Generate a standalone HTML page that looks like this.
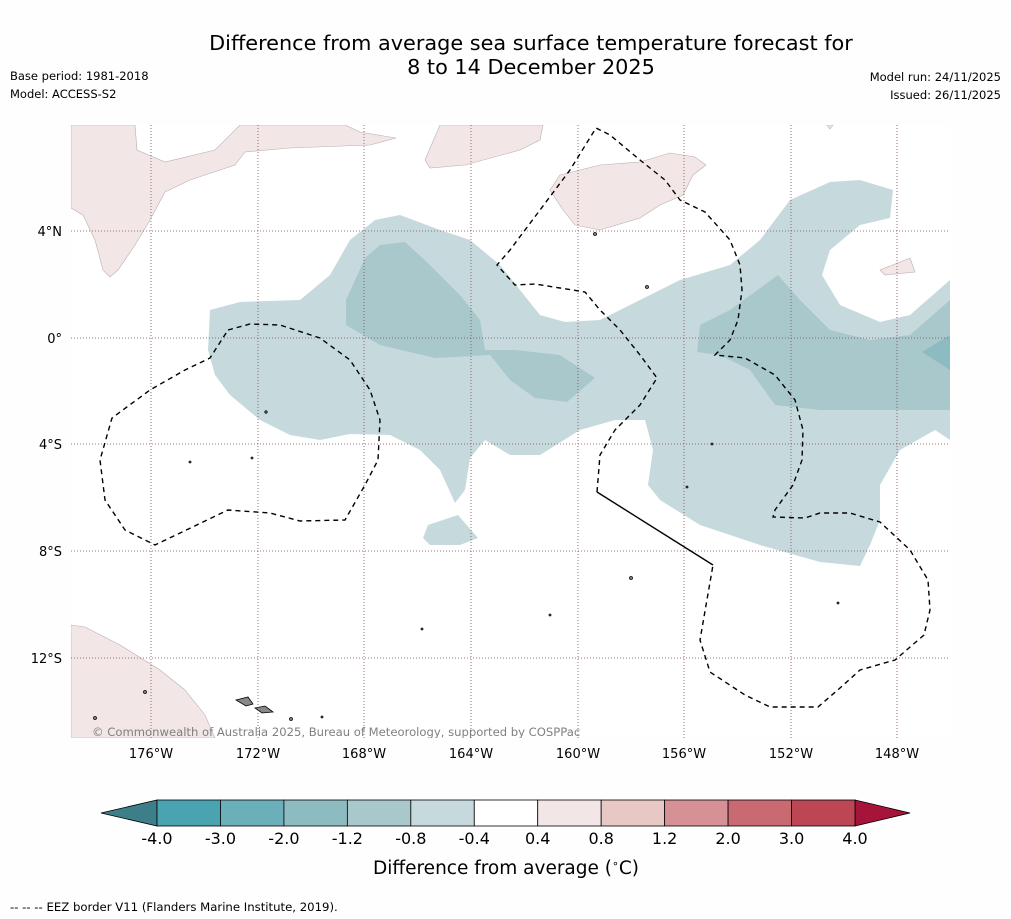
<!DOCTYPE html>
<html><head><meta charset="utf-8"><style>
body{margin:0;background:#fefefe;}
svg{display:block;font-family:"DejaVu Sans","Liberation Sans",sans-serif;}
</style></head><body>
<svg id="chart" width="1011" height="919" viewBox="0 0 1011 919">
<rect width="1011" height="919" fill="#fefefe"/>
<text x="531" y="50" font-size="20.8" text-anchor="middle">Difference from average sea surface temperature forecast for</text>
<text x="531" y="74" font-size="20.8" text-anchor="middle">8 to 14 December 2025</text>
<text x="10" y="80" font-size="11.5">Base period: 1981-2018</text>
<text x="10" y="98" font-size="11.5">Model: ACCESS-S2</text>
<text x="1001" y="81" font-size="11.5" text-anchor="end">Model run: 24/11/2025</text>
<text x="1001" y="99" font-size="11.5" text-anchor="end">Issued: 26/11/2025</text>

<defs><clipPath id="mapclip"><rect x="71" y="125" width="879" height="613"/></clipPath></defs>
<g clip-path="url(#mapclip)">
<rect x="71" y="125" width="879" height="613" fill="#ffffff"/>
<path fill="#c6dadd" d="M210,310 L240,302 300,300 330,275 350,240 375,220 400,215 440,230 470,240 500,265 520,290 540,315 565,322 600,320 630,305 680,280 730,265 760,240 790,200 830,182 860,180 893,190 890,218 860,225 830,250 822,275 840,305 880,322 910,315 950,280 950,440 935,430 900,450 880,485 880,520 870,545 860,566 820,562 760,545 700,525 660,500 648,485 653,450 645,420 615,420 580,430 540,455 510,455 485,440 470,458 465,490 455,503 440,470 420,450 390,435 350,434 320,440 290,435 260,420 230,395 215,375 208,350Z M428,525 L458,515 478,538 460,545 430,545 423,538Z"/>
<path fill="#a8c8cc" d="M346,300 L365,258 380,245 405,242 430,265 460,295 480,320 485,350 515,350 560,355 595,378 567,402 535,398 510,380 490,355 435,358 380,345 346,325Z M697,352 L700,325 730,310 778,275 800,300 830,330 870,340 910,335 950,300 950,410 880,410 820,410 775,405 750,370 720,355Z"/>
<path fill="#8cbbc2" d="M922,352 L950,335 950,370Z"/>
<g fill="#f3e6e6" stroke="#b8b0b0" stroke-width="0.6">
<path d="M71,125 L135,125 137,150 165,162 215,150 240,125 345,125 360,132 396,138 370,145 290,148 245,152 235,165 190,180 165,192 150,220 135,245 118,270 110,277 103,270 95,240 83,215 71,208Z"/>
<path d="M440,125 L543,125 540,140 520,150 465,165 430,168 425,160Z"/>
<path d="M560,175 L600,165 640,162 670,153 695,157 706,165 693,175 683,195 660,205 640,218 600,230 575,225 563,210 550,190Z"/>
<path d="M880,270 L910,258 915,272 885,275Z"/>
<path d="M71,625 L85,627 120,645 160,670 185,690 205,715 215,738 71,738Z"/>
<path d="M827,125 L833,125 830,129Z"/>
</g>
<g fill="#888" stroke="#000" stroke-width="0.8">
<path d="M236,700 L248,697 253,704 246,706Z"/>
<path d="M255,708 L265,706 273,712 262,713Z"/>
<circle cx="145" cy="692" r="1.5"/><circle cx="95" cy="718" r="1.5"/><circle cx="291" cy="719" r="1.5"/>
<circle cx="266" cy="412" r="1.2"/><circle cx="252" cy="458" r="1"/><circle cx="190" cy="462" r="1"/>
<circle cx="595" cy="234" r="1.5"/><circle cx="647" cy="287" r="1.5"/><circle cx="631" cy="578" r="1.5"/>
<circle cx="550" cy="615" r="1"/><circle cx="712" cy="444" r="1"/><circle cx="687" cy="487" r="1"/>
<circle cx="422" cy="629" r="1"/><circle cx="838" cy="603" r="1"/><circle cx="322" cy="717" r="1"/>
</g>
<g stroke="#7a4a52" stroke-width="0.8" stroke-dasharray="1,2">
<line x1="151" y1="125" x2="151" y2="738"/><line x1="258" y1="125" x2="258" y2="738"/>
<line x1="364" y1="125" x2="364" y2="738"/><line x1="471" y1="125" x2="471" y2="738"/>
<line x1="578" y1="125" x2="578" y2="738"/><line x1="684" y1="125" x2="684" y2="738"/>
<line x1="791" y1="125" x2="791" y2="738"/><line x1="897" y1="125" x2="897" y2="738"/>
<line x1="71" y1="231" x2="950" y2="231"/><line x1="71" y1="338" x2="950" y2="338"/>
<line x1="71" y1="444" x2="950" y2="444"/><line x1="71" y1="551" x2="950" y2="551"/>
<line x1="71" y1="658" x2="950" y2="658"/>
</g>
<g fill="none" stroke="#000" stroke-width="1.4">
<path stroke-dasharray="5,4" d="M228,330 L250,324 280,325 320,338 350,360 370,390 380,420 378,460 365,485 345,520 300,521 270,513 228,510 155,545 125,530 105,500 100,460 112,418 150,390 185,370 210,358 228,330Z"/>
<path stroke-dasharray="5,4" d="M597,492 L600,455 615,430 640,405 657,378 640,355 620,330 600,310 585,292 560,288 535,284 515,285 497,265 510,250 540,210 570,170 596,128 610,135 640,160 665,180 680,200 705,212 730,240 740,265 742,290 738,320 730,340 715,355 745,358 775,375 795,400 803,430 802,460 793,485 775,510 773,517 805,518 820,513 850,513 880,522 910,550 928,580 930,610 924,635 895,660 860,670 840,688 818,707 770,707 745,695 710,672 700,640 713,565"/>
<path d="M597,492 L713,565"/>
</g>
<text x="92" y="736" font-size="11.6" fill="#808080">© Commonwealth of Australia 2025, Bureau of Meteorology, supported by COSPPac</text>
</g>

<g font-size="13" text-anchor="end">
<text x="62" y="236">4°N</text><text x="62" y="343">0°</text><text x="62" y="449">4°S</text><text x="62" y="556">8°S</text><text x="62" y="663">12°S</text>
</g>
<g font-size="13" text-anchor="middle">
<text x="151" y="758">176°W</text><text x="258" y="758">172°W</text><text x="364" y="758">168°W</text><text x="471" y="758">164°W</text>
<text x="578" y="758">160°W</text><text x="684" y="758">156°W</text><text x="791" y="758">152°W</text><text x="897" y="758">148°W</text>
</g>

<g id="colorbar"></g>
<text x="506" y="874" font-size="18.5" text-anchor="middle">Difference from average (<tspan font-size="11" dy="-7">∘</tspan><tspan dy="7">C)</tspan></text>
<text x="10" y="911" font-size="11.7">--  --  -- EEZ border V11 (Flanders Marine Institute, 2019).</text>
</svg>
<script>
const levels = [-4.0,-3.0,-2.0,-1.2,-0.8,-0.4,0.4,0.8,1.2,2.0,3.0,4.0];
const levelLabels = ["-4.0","-3.0","-2.0","-1.2","-0.8","-0.4","0.4","0.8","1.2","2.0","3.0","4.0"];
const binColors = ["#4aa3b0","#6aafba","#8cbbc2","#a8c8cc","#c6dadd","#ffffff","#f3e6e6","#e8c8c4","#d69196","#c96a72","#bd4655"];
const extColors = ["#3d7f88","#a7143a"];
const cb = document.getElementById('colorbar');
const ns = 'http://www.w3.org/2000/svg';
const x0 = 157, x1 = 855, y0 = 800, h = 26;
const step = (x1 - x0) / (levels.length - 1);
function cx(i){ return x0 + i * step; }
function mk(tag, attrs){ const e = document.createElementNS(ns, tag); for (const k in attrs) e.setAttribute(k, attrs[k]); cb.appendChild(e); return e; }
const lt = mk('polygon', {points: `${x0},${y0} ${x0},${y0+h} 101,${y0+h/2}`, fill: extColors[0], stroke: '#000', 'stroke-width': 0.8});


const rt = mk('polygon', {points: `${x1},${y0} ${x1},${y0+h} 910,${y0+h/2}`, fill: extColors[1], stroke: '#000', 'stroke-width': 0.8});


for (let i = 0; i < binColors.length; i++) {
  const r = mk('rect', {x: cx(i), y: y0, width: step, height: h, fill: binColors[i], stroke: '#000', 'stroke-width': 0.8});
  
  
}
for (let i = 0; i < levels.length; i++) {
  const t = mk('text', {x: cx(i), y: 844, 'font-size': 16, 'text-anchor': 'middle'});
  t.textContent = levelLabels[i];
  
  
}
</script>
</body></html>
